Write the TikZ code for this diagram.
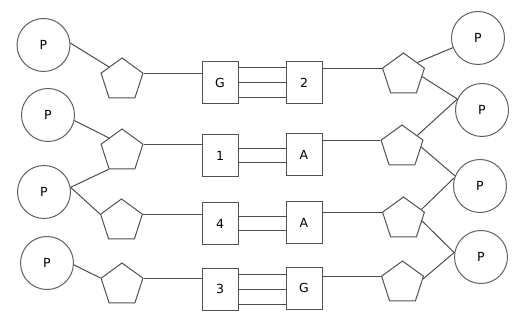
\documentclass[tikz,border=0pt]{standalone}
\usepackage{fontspec}
\setmainfont{DejaVu Sans}
\usetikzlibrary{shapes.geometric}
\begin{document}
\begin{tikzpicture}[x=1pt,y=-1pt,
  every path/.style={draw=black!70,line width=1pt},
  phos/.style={circle,draw=black!62,line width=1pt,minimum size=53pt,inner sep=0pt,font=\fontsize{12.5}{14}\selectfont,text=black},
  sugar/.style={regular polygon,regular polygon sides=5,draw=black!68,line width=1pt,minimum size=44pt,inner sep=0pt},
  base/.style={rectangle,draw=black!68,line width=1pt,minimum width=36pt,minimum height=42pt,inner sep=0pt,font=\fontsize{12.5}{14}\selectfont,text=black}]
\useasboundingbox[fill=white,draw=none] (0,0) rectangle (521,328);
% left phosphates
\node[phos] (P1) at (43.5,45) {P};
\node[phos] (P2) at (48,115) {P};
\node[phos] (P3) at (44,192) {P};
\node[phos] (P4) at (47,263) {P};
% right phosphates
\node[phos] (R1) at (478,38) {P};
\node[phos] (R2) at (482,110) {P};
\node[phos] (R3) at (480,186) {P};
\node[phos] (R4) at (481,257) {P};
% left sugars
\node[sugar] (S1) at (122,80) {};
\node[sugar] (S2) at (122,151) {};
\node[sugar] (S3) at (121.5,221) {};
\node[sugar] (S4) at (122,285) {};
% right sugars
\node[sugar] (T1) at (403.5,75) {};
\node[sugar] (T2) at (402,147) {};
\node[sugar] (T3) at (403.5,219) {};
\node[sugar] (T4) at (402.5,283) {};
% bases
\node[base] (B1) at (220,83) {G};
\node[base] (C1) at (304,83) {2};
\node[base] (B2) at (220,155.5) {1};
\node[base] (C2) at (304,155) {A};
\node[base] (B3) at (220,224) {4};
\node[base] (C3) at (304,223) {A};
\node[base] (B4) at (220,289) {3};
\node[base] (C4) at (304,288) {G};
% phosphate - sugar (left)
\draw (P1.4) -- (S1.135);
\draw (P2.-12) -- (S2.135);
\draw (P3.10) -- (S2.corner 3);
\draw (P3.10) -- (S3.corner 2);
\draw (P4.-4) -- (S4.corner 2);
% phosphate - sugar (right)
\draw (T1.42) -- (R1.201);
\draw (T1.-5) -- (R2.156);
\draw (T2.37) -- (R2.156);
\draw (T2.0) -- (R3.158);
\draw (T3.28) -- (R3.162);
\draw (T3.-6) -- (R4.171);
\draw (T4.11) -- (R4.170);
% sugar - base
\draw (S1.corner 5) -- (S1.corner 5 -| B1.west);
\draw (S2.corner 5) -- (S2.corner 5 -| B2.west);
\draw (S3.corner 5) -- (S3.corner 5 -| B3.west);
\draw (S4.corner 5) -- (S4.corner 5 -| B4.west);
\draw (T1.corner 2) -- (T1.corner 2 -| C1.east);
\draw (T2.corner 2) -- (T2.corner 2 -| C2.east);
\draw (T3.corner 2) -- (T3.corner 2 -| C3.east);
\draw (T4.corner 2) -- (T4.corner 2 -| C4.east);
% hydrogen bonds
\foreach \d in {15,0,-15} {
  \draw ([yshift=\d pt]B1.east) -- ([yshift=\d pt]B1.east -| C1.west);
  \draw ([yshift=\d pt]B4.east) -- ([yshift=\d pt]B4.east -| C4.west);
}
\foreach \d in {7,-7} {
  \draw ([yshift=\d pt]B2.east) -- ([yshift=\d pt]B2.east -| C2.west);
  \draw ([yshift=\d pt]B3.east) -- ([yshift=\d pt]B3.east -| C3.west);
}
\end{tikzpicture}
\end{document}
